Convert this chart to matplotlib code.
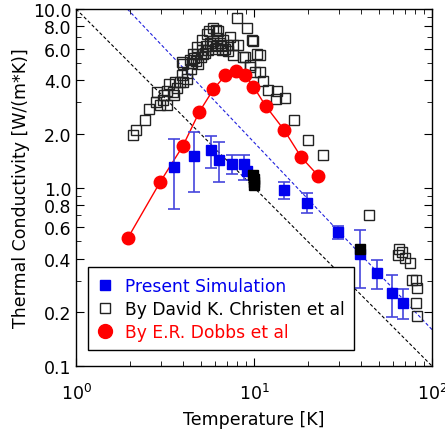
import matplotlib
matplotlib.use('Agg')
import matplotlib.pyplot as plt
from matplotlib.lines import Line2D
from matplotlib.ticker import FixedLocator, LogLocator, NullFormatter, FormatStrFormatter

# Present simulation (blue squares with error bars)
sim_T = [3.57, 4.62, 5.76, 6.33, 7.55, 8.79, 9.10, 14.8, 19.9, 29.7, 39.4, 49.1, 59.6, 69.0]
sim_k = [1.31, 1.50, 1.62, 1.42, 1.36, 1.36, 1.24, 0.966, 0.824, 0.562, 0.425, 0.331, 0.257, 0.226]
sim_hi = [1.87, 2.05, 1.94, 1.79, 1.52, 1.52, 1.30, 1.07, 0.929, 0.607, 0.576, 0.394, 0.323, 0.269]
sim_lo = [0.762, 0.946, 1.29, 1.07, 1.19, 1.10, 1.18, 0.86, 0.718, 0.513, 0.274, 0.269, 0.189, 0.183]

# extra black filled squares (no legend entry)
blk_T = [9.85, 9.95, 10.0, 10.0, 39.4]
blk_k = [1.17, 1.12, 1.08, 1.04, 0.455]

# David K. Christen et al (open squares)
chr_T = [2.10, 2.17, 2.44, 2.58, 2.81, 2.84, 2.95, 3.07, 3.10, 3.23, 3.26, 3.34, 3.49, 3.55, 3.6,
         3.7, 3.84, 3.92, 4.01, 4.19, 4.2, 4.01, 3.92, 4.37, 4.4, 4.5, 4.56, 4.6, 4.7, 4.77, 4.8,
         4.87, 5.0, 5.08, 5.1, 5.19, 5.3, 5.4, 5.42, 5.5, 5.6, 5.66, 5.8, 5.9, 5.91, 6.0, 6.1,
         6.17, 6.2, 6.3, 6.44, 6.5, 6.6, 6.72, 6.9, 7.02, 7.1, 7.33, 7.65, 7.65, 8.16, 7.99, 8.71,
         8.90, 9.10, 9.50, 9.50, 9.70, 9.91, 10.1, 10.4, 10.8, 10.8, 11.2, 12.0, 13.3, 13.4, 14.9,
         16.8, 20.0, 24.5, 44.3, 64.7, 65.5, 67.6, 70.5, 75.2, 76.9, 81.3, 82.7, 81.3, 82.0]
chr_k = [1.98, 2.10, 2.40, 2.75, 3.02, 3.44, 2.90, 3.10, 3.32, 2.89, 3.49, 3.78, 3.44, 3.30, 3.90,
         3.60, 3.91, 4.26, 3.91, 4.08, 4.40, 4.95, 5.04, 5.17, 4.60, 5.00, 5.63, 5.30, 5.10, 6.14, 5.60,
         4.95, 5.40, 6.69, 5.90, 5.63, 5.70, 6.20, 7.29, 5.90, 7.50, 6.41, 6.20, 6.60, 7.78, 6.00, 7.60,
         6.84, 6.30, 7.50, 6.41, 6.20, 5.90, 6.69, 6.00, 6.27, 5.80, 6.98, 6.27, 5.51, 6.27, 8.85, 5.40,
         5.40, 7.78, 4.75, 4.84, 6.69, 6.64, 4.45, 5.63, 5.51, 4.45, 3.96, 3.51, 3.15, 3.46, 3.18,
         2.38, 1.84, 1.53, 0.70, 0.421, 0.451, 0.437, 0.404, 0.380, 0.303, 0.303, 0.274, 0.227, 0.191]

# E.R. Dobbs et al (red circles)
dob_T = [1.96, 2.96, 3.98, 4.93, 5.91, 6.90, 7.89, 8.87, 9.91, 11.6, 14.7, 18.4, 23.0]
dob_k = [0.525, 1.07, 1.71, 2.66, 3.55, 4.26, 4.52, 4.28, 3.68, 2.87, 2.11, 1.48, 1.16]

# reference dashed lines (end points)
blk_line_T = [1.0, 100.0]
blk_line_k = [10.0, 0.1]
blu_line_T = [1.94, 100.0]
blu_line_k = [10.0, 0.16]

yticks = [0.1, 0.2, 0.4, 0.6, 0.8, 1.0, 2.0, 4.0, 6.0, 8.0, 10.0]

fig = plt.figure(figsize=(4.45, 4.35), dpi=100)
ax = fig.add_axes([0.171, 0.156, 0.800, 0.821])

ax.plot(blk_line_T, blk_line_k, color='black', ls=(0, (3, 2)), lw=0.8)
ax.plot(blu_line_T, blu_line_k, color='#2020dd', ls=(0, (3, 2)), lw=0.8)

ax.plot(chr_T, chr_k, ls='none', marker='s', ms=6.5, mfc='none', mec='#222222', mew=1.0)
ax.plot(dob_T, dob_k, color='red', lw=1.0, marker='o', ms=9, mec='red')
yerr = [[k - lo for k, lo in zip(sim_k, sim_lo)], [hi - k for k, hi in zip(sim_k, sim_hi)]]
ax.errorbar(sim_T, sim_k, yerr=yerr, fmt='none', ecolor='#4545dd', elinewidth=1.2,
            capsize=4.5, capthick=1.2)
ax.plot(sim_T, sim_k, ls='none', marker='s', ms=6.5, color='#0000ee')
ax.plot(blk_T, blk_k, ls='none', marker='s', ms=6.5, color='black')

ax.set_xscale('log')
ax.set_yscale('log')
ax.set_xlim(1, 100)
ax.set_ylim(0.1, 10)
ax.yaxis.set_major_locator(FixedLocator(yticks))
ax.yaxis.set_major_formatter(FormatStrFormatter('%.1f'))
ax.yaxis.set_minor_locator(LogLocator(base=10, subs=[0.3, 0.5, 0.7, 0.9]))
ax.yaxis.set_minor_formatter(NullFormatter())
ax.xaxis.set_minor_locator(LogLocator(base=10, subs=range(2, 10)))
ax.tick_params(which='both', direction='in', top=True, right=True, labelsize=12.5)
ax.tick_params(which='major', length=6)
ax.tick_params(which='minor', length=3.5)
ax.tick_params(axis='x', pad=12)
for s in ax.spines.values():
    s.set_linewidth(1.0)

ax.set_xlabel('Temperature [K]', fontsize=12.5, labelpad=5)
ax.set_ylabel('Thermal Conductivity [W/(m*K)]', fontsize=12.5, labelpad=2)

handles = [
    Line2D([], [], ls='none', marker='s', ms=7, color='#0000ee'),
    Line2D([], [], ls='none', marker='s', ms=7, mfc='none', mec='#222222', mew=1.0),
    Line2D([], [], ls='none', marker='o', ms=10, color='red'),
]
labels = ['Present Simulation', 'By David K. Christen et al', 'By E.R. Dobbs et al']
leg = ax.legend(handles, labels, loc='lower left',
                bbox_to_anchor=(0.02, 0.03), fontsize=12.3, fancybox=False,
                edgecolor='black', framealpha=1, handlelength=0.9, handletextpad=0.7,
                borderpad=0.55, labelspacing=0.3, borderaxespad=0.3)
leg.get_frame().set_linewidth(1.0)
for txt, c in zip(leg.get_texts(), ['#0000ee', 'black', 'red']):
    txt.set_color(c)

fig.savefig('out.png', dpi=100)
